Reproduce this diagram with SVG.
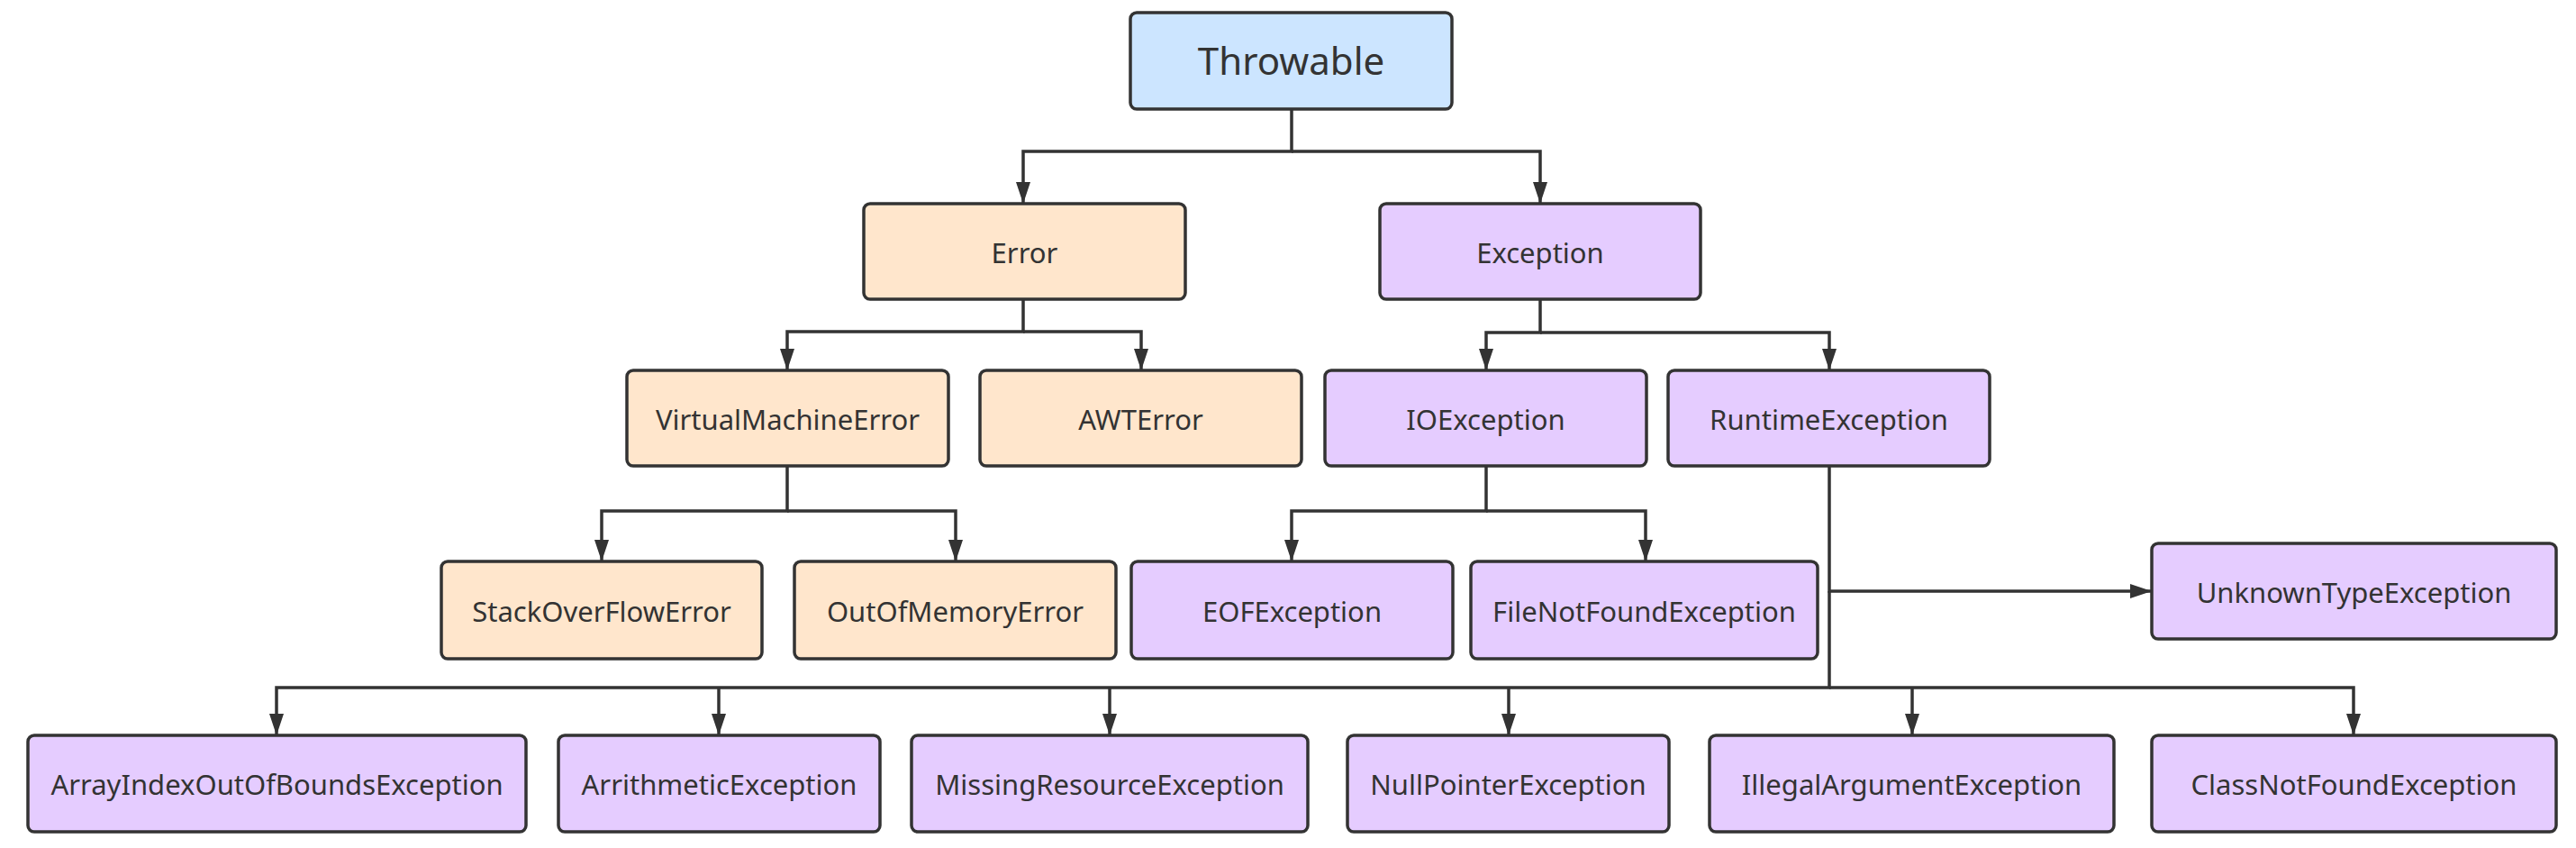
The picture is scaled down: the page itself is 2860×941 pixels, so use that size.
<svg xmlns="http://www.w3.org/2000/svg" width="2860" height="941" viewBox="0 0 2860 941">
<style>
.box{stroke:#333333;stroke-width:3.5}
.blue{fill:#cce5ff}
.peach{fill:#ffe6cc}
.purple{fill:#e5ccff}
.lbl{font-family:"Noto Sans","Open Sans","DejaVu Sans",sans-serif;font-size:31px;fill:#333333;text-anchor:middle}
.big{font-size:42px}
.c{fill:none;stroke:#333333;stroke-width:3.5;stroke-linejoin:miter}
</style>
<defs>
<marker id="ah" viewBox="0 0 24 16" refX="24" refY="8" markerWidth="24" markerHeight="16" markerUnits="userSpaceOnUse" orient="auto">
<path d="M0,0 L24,8 L0,16 z" fill="#333333"/>
</marker>
</defs>
<rect width="2860" height="941" fill="#ffffff"/>
<g id="connectors">
<path class="c" d="M1434,121 V168 H1136 V226" marker-end="url(#ah)"/>
<path class="c" d="M1434,168 H1710 V226" marker-end="url(#ah)"/>
<path class="c" d="M1136,332 V368 H874 V411" marker-end="url(#ah)"/>
<path class="c" d="M1136,368 H1267 V411" marker-end="url(#ah)"/>
<path class="c" d="M1710,332 V369 H1650 V411" marker-end="url(#ah)"/>
<path class="c" d="M1710,369 H2031 V411" marker-end="url(#ah)"/>
<path class="c" d="M874,517 V567 H668 V623" marker-end="url(#ah)"/>
<path class="c" d="M874,567 H1061 V623" marker-end="url(#ah)"/>
<path class="c" d="M1650,517 V567 H1434 V623" marker-end="url(#ah)"/>
<path class="c" d="M1650,567 H1827 V623" marker-end="url(#ah)"/>
<path class="c" d="M2031,517 V656 H2389" marker-end="url(#ah)"/>
<path class="c" d="M2031,656 V763 H307 V816" marker-end="url(#ah)"/>
<path class="c" d="M798,763 V816" marker-end="url(#ah)"/>
<path class="c" d="M1232,763 V816" marker-end="url(#ah)"/>
<path class="c" d="M1675,763 V816" marker-end="url(#ah)"/>
<path class="c" d="M2031,763 H2613 V816" marker-end="url(#ah)"/>
<path class="c" d="M2123,763 V816" marker-end="url(#ah)"/>
</g>
<g id="throwable"><rect class="box blue" x="1255" y="14" width="357" height="107" rx="7"/><text class="lbl big" x="1433.5" y="83">Throwable</text></g>
<g id="error"><rect class="box peach" x="959" y="226" width="357" height="106" rx="7"/><text class="lbl" x="1137.5" y="292">Error</text></g>
<g id="exception"><rect class="box purple" x="1532" y="226" width="356" height="106" rx="7"/><text class="lbl" x="1710" y="292">Exception</text></g>
<g id="virtualmachineerror"><rect class="box peach" x="696" y="411" width="357" height="106" rx="7"/><text class="lbl" x="874.5" y="477">VirtualMachineError</text></g>
<g id="awterror"><rect class="box peach" x="1088" y="411" width="357" height="106" rx="7"/><text class="lbl" x="1266.5" y="477">AWTError</text></g>
<g id="ioexception"><rect class="box purple" x="1471" y="411" width="357" height="106" rx="7"/><text class="lbl" x="1649.5" y="477">IOException</text></g>
<g id="runtimeexception"><rect class="box purple" x="1852" y="411" width="357" height="106" rx="7"/><text class="lbl" x="2030.5" y="477">RuntimeException</text></g>
<g id="stackoverflowerror"><rect class="box peach" x="490" y="623" width="356" height="108" rx="7"/><text class="lbl" x="668" y="690">StackOverFlowError</text></g>
<g id="outofmemoryerror"><rect class="box peach" x="882" y="623" width="357" height="108" rx="7"/><text class="lbl" x="1060.5" y="690">OutOfMemoryError</text></g>
<g id="eofexception"><rect class="box purple" x="1256" y="623" width="357" height="108" rx="7"/><text class="lbl" x="1434.5" y="690">EOFException</text></g>
<g id="filenotfoundexception"><rect class="box purple" x="1633" y="623" width="385" height="108" rx="7"/><text class="lbl" x="1825.5" y="690">FileNotFoundException</text></g>
<g id="unknowntypeexception"><rect class="box purple" x="2389" y="603" width="449" height="106" rx="7"/><text class="lbl" x="2613.5" y="669">UnknownTypeException</text></g>
<g id="arrayindexoutofboundsexception"><rect class="box purple" x="31" y="816" width="553" height="107" rx="7"/><text class="lbl" x="307.5" y="882">ArrayIndexOutOfBoundsException</text></g>
<g id="arithmeticexception"><rect class="box purple" x="620" y="816" width="357" height="107" rx="7"/><text class="lbl" x="798.5" y="882">ArrithmeticException</text></g>
<g id="missingresourceexception"><rect class="box purple" x="1012" y="816" width="440" height="107" rx="7"/><text class="lbl" x="1232" y="882">MissingResourceException</text></g>
<g id="nullpointerexception"><rect class="box purple" x="1496" y="816" width="357" height="107" rx="7"/><text class="lbl" x="1674.5" y="882">NullPointerException</text></g>
<g id="illegalargumentexception"><rect class="box purple" x="1898" y="816" width="449" height="107" rx="7"/><text class="lbl" x="2122.5" y="882">IllegalArgumentException</text></g>
<g id="classnotfoundexception"><rect class="box purple" x="2389" y="816" width="449" height="107" rx="7"/><text class="lbl" x="2613.5" y="882">ClassNotFoundException</text></g>
</svg>
